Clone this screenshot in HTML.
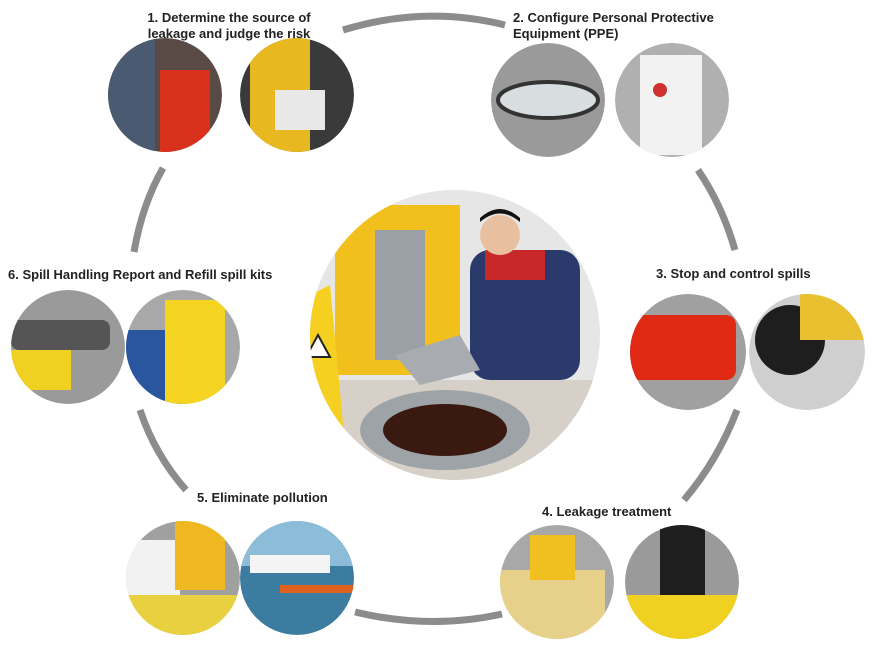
<!DOCTYPE html>
<html><head><meta charset="utf-8"><style>
body{margin:0;background:#fff;width:874px;height:658px;overflow:hidden;position:relative;font-family:"Liberation Sans",Arial,sans-serif}
.t{position:absolute;font-weight:bold;font-size:13px;color:#222;line-height:16px}
</style></head><body>
<svg width="874" height="658" style="position:absolute;left:0;top:0">
<defs>
<clipPath id="cc"><circle cx="455" cy="335" r="145"/></clipPath>
<clipPath id="a1"><circle cx="165" cy="95" r="57"/></clipPath>
<clipPath id="a2"><circle cx="297" cy="95" r="57"/></clipPath>
<clipPath id="b1"><circle cx="548" cy="100" r="57"/></clipPath>
<clipPath id="b2"><circle cx="672" cy="100" r="57"/></clipPath>
<clipPath id="c1"><circle cx="688" cy="352" r="58"/></clipPath>
<clipPath id="c2"><circle cx="807" cy="352" r="58"/></clipPath>
<clipPath id="d1"><circle cx="557" cy="582" r="57"/></clipPath>
<clipPath id="d2"><circle cx="682" cy="582" r="57"/></clipPath>
<clipPath id="e1"><circle cx="183" cy="578" r="57"/></clipPath>
<clipPath id="e2"><circle cx="297" cy="578" r="57"/></clipPath>
<clipPath id="f1"><circle cx="68" cy="347" r="57"/></clipPath>
<clipPath id="f2"><circle cx="183" cy="347" r="57"/></clipPath>
</defs>
<g fill="none" stroke="#8c8c8c" stroke-width="7">
<path d="M343 30 Q425 5 505 25"/>
<path d="M698 170 Q722 205 735 250"/>
<path d="M737 410 Q718 460 684 500"/>
<path d="M355 612 Q430 630 502 614"/>
<path d="M140 410 Q155 455 186 490"/>
<path d="M134 252 Q142 205 163 168"/>
</g>
<g clip-path="url(#a1)"><circle cx="165" cy="95" r="57" fill="#5a4a45"/>
<rect x="160" y="70" width="50" height="85" fill="#d8321c"/>
<rect x="108" y="38" width="47" height="120" fill="#4a5a70"/></g>
<g clip-path="url(#a2)"><circle cx="297" cy="95" r="57" fill="#3a3a3a"/>
<rect x="250" y="38" width="60" height="115" fill="#e8b820"/>
<rect x="275" y="90" width="50" height="40" fill="#e8e8e8"/></g>
<g clip-path="url(#b1)"><circle cx="548" cy="100" r="57" fill="#9a9a9a"/>
<ellipse cx="548" cy="100" rx="50" ry="18" fill="#d8dde0" stroke="#333" stroke-width="4"/></g>
<g clip-path="url(#b2)"><circle cx="672" cy="100" r="57" fill="#b0b0b0"/>
<rect x="640" y="55" width="62" height="100" fill="#f2f2f2"/>
<circle cx="660" cy="90" r="7" fill="#d03030"/></g>
<g clip-path="url(#c1)"><circle cx="688" cy="352" r="58" fill="#a0a0a0"/>
<rect x="630" y="315" width="106" height="65" rx="10" fill="#e02a14"/></g>
<g clip-path="url(#c2)"><circle cx="807" cy="352" r="58" fill="#cfcfcf"/>
<circle cx="790" cy="340" r="35" fill="#1e1e1e"/>
<rect x="800" y="294" width="70" height="46" fill="#e8c030"/></g>
<g clip-path="url(#d1)"><circle cx="557" cy="582" r="57" fill="#a8a8a8"/>
<rect x="500" y="570" width="105" height="70" fill="#e6d08a"/>
<rect x="530" y="535" width="45" height="45" fill="#f0c020"/></g>
<g clip-path="url(#d2)"><circle cx="682" cy="582" r="57" fill="#9a9a9a"/>
<rect x="660" y="525" width="45" height="75" fill="#1e1e1e"/>
<rect x="625" y="595" width="115" height="45" fill="#f0d020"/></g>
<g clip-path="url(#e1)"><circle cx="183" cy="578" r="57" fill="#a0a0a0"/>
<rect x="126" y="540" width="54" height="95" fill="#f2f2f2"/>
<rect x="175" y="521" width="50" height="69" fill="#f0b820"/>
<rect x="126" y="595" width="114" height="40" fill="#e8d040"/></g>
<g clip-path="url(#e2)"><circle cx="297" cy="578" r="57" fill="#3c7ca0"/>
<rect x="240" y="521" width="114" height="45" fill="#8cbcd8"/>
<rect x="250" y="555" width="80" height="18" fill="#f4f4f4"/>
<rect x="280" y="585" width="74" height="8" fill="#e06020"/></g>
<g clip-path="url(#f1)"><circle cx="68" cy="347" r="57" fill="#9a9a9a"/>
<rect x="11" y="320" width="99" height="30" rx="8" fill="#555"/>
<rect x="11" y="350" width="60" height="40" fill="#f0d020"/></g>
<g clip-path="url(#f2)"><circle cx="183" cy="347" r="57" fill="#a8a8a8"/>
<rect x="126" y="330" width="59" height="75" fill="#2a56a0"/>
<rect x="165" y="300" width="60" height="105" fill="#f4d420"/></g>
<circle cx="455" cy="335" r="145" fill="#e6e6e6"/>
<g clip-path="url(#cc)">
<rect x="310" y="380" width="290" height="100" fill="#d6d0c8"/>
<rect x="335" y="205" width="125" height="170" fill="#f2c01c"/>
<rect x="375" y="230" width="50" height="130" fill="#9aa0a6"/>
<polygon points="300,300 330,285 345,445 300,460" fill="#f5d020"/>
<polygon points="318,335 330,357 306,357" fill="#fff" stroke="#222" stroke-width="2"/>
<ellipse cx="445" cy="430" rx="85" ry="40" fill="#9ea3a8"/>
<ellipse cx="445" cy="430" rx="62" ry="26" fill="#3a1a10"/>
<rect x="470" y="250" width="110" height="130" rx="20" fill="#2a3a6a"/>
<rect x="485" y="250" width="60" height="30" fill="#c8282a"/>
<circle cx="500" cy="235" r="20" fill="#e8c0a0"/>
<path d="M480 222 Q500 205 520 222 L520 218 Q500 200 480 218Z" fill="#111"/>
<polygon points="395,355 460,335 480,370 420,385" fill="#a8acb0"/>
</g>
</svg>
<div class="t" style="left:144px;top:10px;text-align:center;width:170px">1. Determine the source of<br>leakage and judge the risk</div>
<div class="t" style="left:513px;top:10px">2. Configure Personal Protective<br>Equipment (PPE)</div>
<div class="t" style="left:656px;top:266px">3. Stop and control spills</div>
<div class="t" style="left:542px;top:504px">4. Leakage treatment</div>
<div class="t" style="left:197px;top:490px">5. Eliminate pollution</div>
<div class="t" style="left:8px;top:267px">6. Spill Handling Report and Refill spill kits</div>
</body></html>
